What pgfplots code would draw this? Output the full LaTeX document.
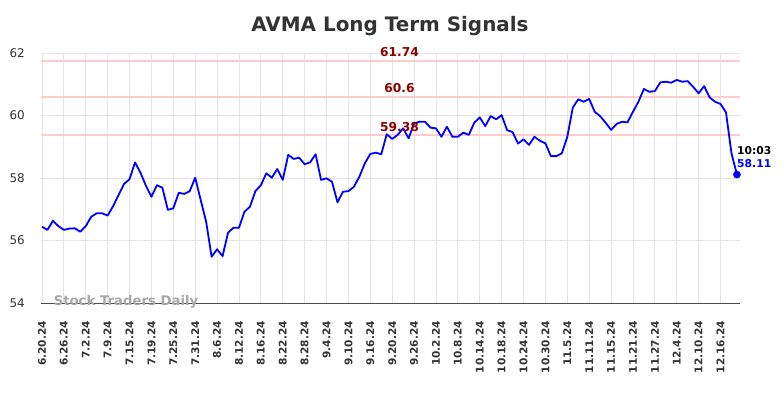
\documentclass[border=0pt]{standalone}
\usepackage{fontspec}
\setmainfont{DejaVu Sans}
\usepackage{pgfplots}
\pgfplotsset{compat=1.18}
\definecolor{gridgray}{HTML}{E4E4E4}
\definecolor{textgray}{HTML}{333333}
\definecolor{levelpink}{HTML}{FFCCCC}
\definecolor{leveltext}{HTML}{8B0000}
\definecolor{markgray}{HTML}{A6A6A6}
\definecolor{lineblue}{HTML}{0000FF}
\begin{document}
\begin{tikzpicture}
\path[use as bounding box] (0,0) rectangle (784bp,398bp);
\begin{axis}[
  at={(41bp,95bp)}, anchor=south west,
  width=699bp, height=250bp, scale only axis,
  xmin=-0.18, xmax=127.56, ymin=54, ymax=62,
  ytick={54,56,58,60,62},
  xtick={0,4,...,124},
  xticklabels={6.20.24,6.26.24,7.2.24,7.9.24,7.15.24,7.19.24,7.25.24,7.31.24,8.6.24,8.12.24,8.16.24,8.22.24,8.28.24,9.4.24,9.10.24,9.16.24,9.20.24,9.26.24,10.2.24,10.8.24,10.14.24,10.18.24,10.24.24,10.30.24,11.5.24,11.11.24,11.15.24,11.21.24,11.27.24,12.4.24,12.10.24,12.16.24},
  grid=major, major grid style={gridgray, line width=0.9bp},
  major tick length=0,
  axis x line*=bottom, axis y line*=left,
  x axis line style={-, draw=black!70, line width=1bp},
  y axis line style={draw=none},
  /pgf/number format/assume math mode=true,
  yticklabel style={font=\fontsize{12}{14}\selectfont, text=textgray, anchor=east, inner sep=0pt, xshift=-16bp},
  xticklabel style={rotate=90, anchor=east, inner sep=0pt, xshift=-18bp, font=\bfseries\fontsize{10.6}{12}\selectfont, text=textgray},
  clip=false,
]
\addplot[levelpink, line width=2bp] coordinates {(-0.18,61.74) (127.56,61.74)};
\addplot[levelpink, line width=2bp] coordinates {(-0.18,60.6) (127.56,60.6)};
\addplot[levelpink, line width=2bp] coordinates {(-0.18,59.38) (127.56,59.38)};
\addplot[lineblue, line width=1.8bp, line join=round] table[x=i, y=v] {
i v
0 56.44
1 56.34
2 56.63
3 56.46
4 56.34
5 56.38
6 56.39
7 56.28
8 56.46
9 56.76
10 56.87
11 56.87
12 56.80
13 57.10
14 57.46
15 57.81
16 57.96
17 58.50
18 58.17
19 57.75
20 57.40
21 57.77
22 57.69
23 56.98
24 57.03
25 57.53
26 57.49
27 57.58
28 58.01
29 57.30
30 56.60
31 55.48
32 55.72
33 55.50
34 56.25
35 56.41
36 56.41
37 56.92
38 57.08
39 57.58
40 57.77
41 58.15
42 58.01
43 58.29
44 57.94
45 58.74
46 58.61
47 58.65
48 58.44
49 58.50
50 58.76
51 57.94
52 57.99
53 57.88
54 57.22
55 57.56
56 57.58
57 57.72
58 58.04
59 58.47
60 58.77
61 58.81
62 58.76
63 59.40
64 59.25
65 59.38
66 59.59
67 59.27
68 59.75
69 59.80
70 59.80
71 59.61
72 59.59
73 59.32
74 59.64
75 59.32
76 59.32
77 59.45
78 59.38
79 59.77
80 59.94
81 59.66
82 59.98
83 59.88
84 60.01
85 59.53
86 59.47
87 59.10
88 59.24
89 59.06
90 59.32
91 59.19
92 59.11
93 58.70
94 58.70
95 58.79
96 59.32
97 60.25
98 60.52
99 60.44
100 60.53
101 60.12
102 59.98
103 59.77
104 59.54
105 59.73
106 59.80
107 59.78
108 60.12
109 60.44
110 60.85
111 60.76
112 60.78
113 61.06
114 61.08
115 61.05
116 61.14
117 61.08
118 61.10
119 60.92
120 60.71
121 60.94
122 60.58
123 60.44
124 60.37
125 60.10
126 58.79
127 58.11
};
\addplot[lineblue, only marks, mark=*, mark size=3.6bp] coordinates {(127,58.11)};
\node[anchor=base, inner sep=0pt, yshift=4.5bp, text=leveltext, font=\bfseries\fontsize{12.3}{14}\selectfont] at (axis cs:65.33,61.74) {61.74};
\node[anchor=base, inner sep=0pt, yshift=4.5bp, text=leveltext, font=\bfseries\fontsize{12.3}{14}\selectfont] at (axis cs:65.33,60.6) {60.6};
\node[anchor=base, inner sep=0pt, yshift=3.5bp, text=leveltext, font=\bfseries\fontsize{12.3}{14}\selectfont] at (axis cs:65.33,59.38) {59.38};
\end{axis}
\node[text=textgray, font=\bfseries\fontsize{20}{24}\selectfont, inner sep=0pt] at (390bp,372bp) {AVMA Long Term Signals};
\node[text=markgray, font=\bfseries\fontsize{13.3}{15}\selectfont, inner sep=0pt] at (126bp,96bp) {Stock Traders Daily};
\node[anchor=west, text=black, font=\bfseries\fontsize{10.8}{12}\selectfont, inner sep=0pt] at (737bp,247bp) {10:03};
\node[anchor=west, text=lineblue, font=\bfseries\fontsize{10.8}{12}\selectfont, inner sep=0pt] at (737bp,234bp) {58.11};
\end{tikzpicture}
\end{document}
